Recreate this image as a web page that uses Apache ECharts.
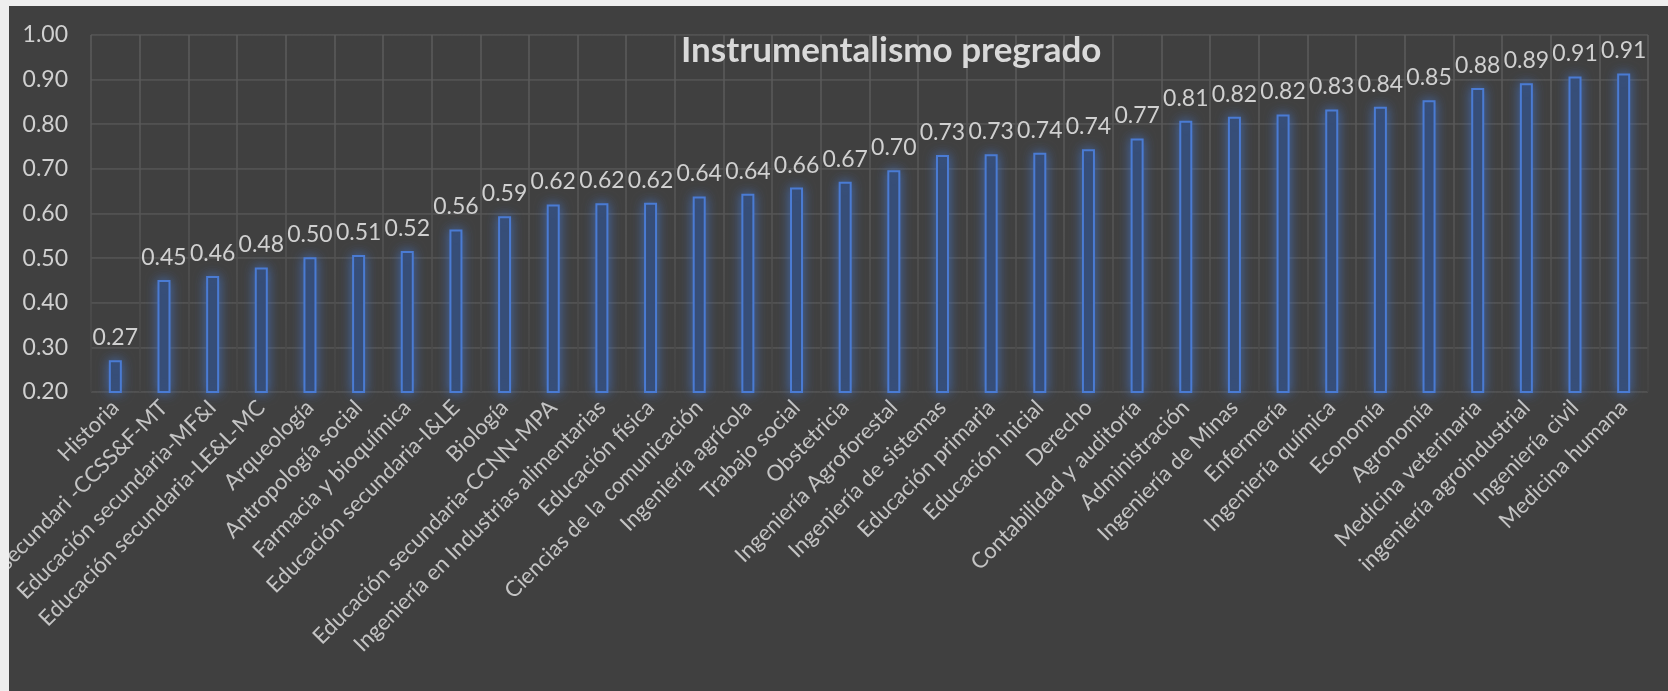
<!DOCTYPE html>
<html>
<head>
<meta charset="utf-8">
<script src="https://cdn.jsdelivr.net/npm/echarts@6/dist/echarts.min.js"></script>
<style>
  html, body { margin: 0; padding: 0; background: #eeeeee; }
  #chart {
    position: absolute;
    left: 9px; top: 6px;
    width: 1659px; height: 685px;
    background: #404040;
  }
</style>
</head>
<body>
<div id="chart"></div>
<script>
// carreras de pregrado (orden ascendente)
const categories = [
  'Historia', 'Educación secundari -CCSS&F-MT', 'Educación secundaria-MF&I',
  'Educación secundaria-LE&L-MC', 'Arqueología', 'Antropología social',
  'Farmacia y bioquímica', 'Educación secundaria-I&LE', 'Biología',
  'Educación secundaria-CCNN-MPA', 'Ingeniería en Industrias alimentarias',
  'Educación física', 'Ciencias de la comunicación', 'Ingeniería agrícola',
  'Trabajo social', 'Obstetricia', 'Ingeniería Agroforestal',
  'Ingeniería de sistemas', 'Educación primaria', 'Educación inicial', 'Derecho',
  'Contabilidad y auditoría', 'Administración', 'Ingeniería de Minas',
  'Enfermería', 'Ingeniería química', 'Economía', 'Agronomía',
  'Medicina veterinaria', 'ingeniería agroindustrial', 'Ingeniería civil',
  'Medicina humana'
]

// valores
const values = [
  0.271, 0.451, 0.460, 0.479, 0.502, 0.507, 0.516, 0.564, 0.594, 0.620, 0.623,
  0.624, 0.638, 0.644, 0.658, 0.671, 0.697, 0.731, 0.733, 0.736, 0.744, 0.768,
  0.808, 0.817, 0.822, 0.833, 0.839, 0.854, 0.881, 0.892, 0.907, 0.914
]

const yMin = 0.2
const yMax = 1.0
const yStep = 0.1

const FONT = 'Lato'

const chart = echarts.init(document.getElementById('chart'))

// las líneas de la cuadrícula se desvanecen hacia abajo
const gridFade = new echarts.graphic.LinearGradient(0, 0, 0, 1, [
  { offset: 0, color: '#5c5c5c' },
  { offset: 0.55, color: '#555555' },
  { offset: 1, color: '#454545' }
])

chart.setOption({
  animation: false,
  backgroundColor: '#404040',
  title: {
    text: 'Instrumentalismo pregrado',
    left: 667,
    top: 22,
    textStyle: {
      color: '#d9d9d9',
      fontFamily: FONT,
      fontWeight: 'bold',
      fontSize: 35
    }
  },
  grid: {
    left: 82, right: 20, top: 29, bottom: 299,
    containLabel: false,
    outerBoundsMode: 'none'
  },
  xAxis: {
    type: 'category',
    data: categories,
    axisLine: { show: false },
    axisTick: { show: false },
    splitLine: {
      show: true,
      interval: 0,
      lineStyle: { color: gridFade, width: 1.5 }
    },
    axisLabel: {
      interval: 0,
      rotate: 45,
      margin: 12,
      color: '#c4c4c4',
      fontFamily: FONT,
      fontSize: 22
    }
  },
  yAxis: {
    type: 'value',
    min: yMin,
    max: yMax,
    interval: yStep,
    axisLine: { show: false },
    axisTick: { show: false },
    splitLine: {
      lineStyle: { color: gridFade, width: 1.5 }
    },
    axisLabel: {
      margin: 23,
      color: '#d0d0d0',
      fontFamily: FONT,
      fontSize: 23,
      formatter: v => v.toFixed(2)
    }
  },
  series: [
    {
      type: 'bar',
      data: values,
      barWidth: 13,
      itemStyle: {
        color: '#34476a',
        borderColor: '#4a7bd3',
        borderWidth: 2,
        shadowBlur: 12,
        shadowColor: 'rgba(68, 114, 196, 0.8)'
      },
      label: {
        show: true,
        position: 'top',
        distance: 11,
        color: '#d0d0d0',
        fontFamily: FONT,
        fontSize: 23,
        formatter: p => p.value.toFixed(2)
      }
    }
  ]
})
</script>
</body>
</html>
